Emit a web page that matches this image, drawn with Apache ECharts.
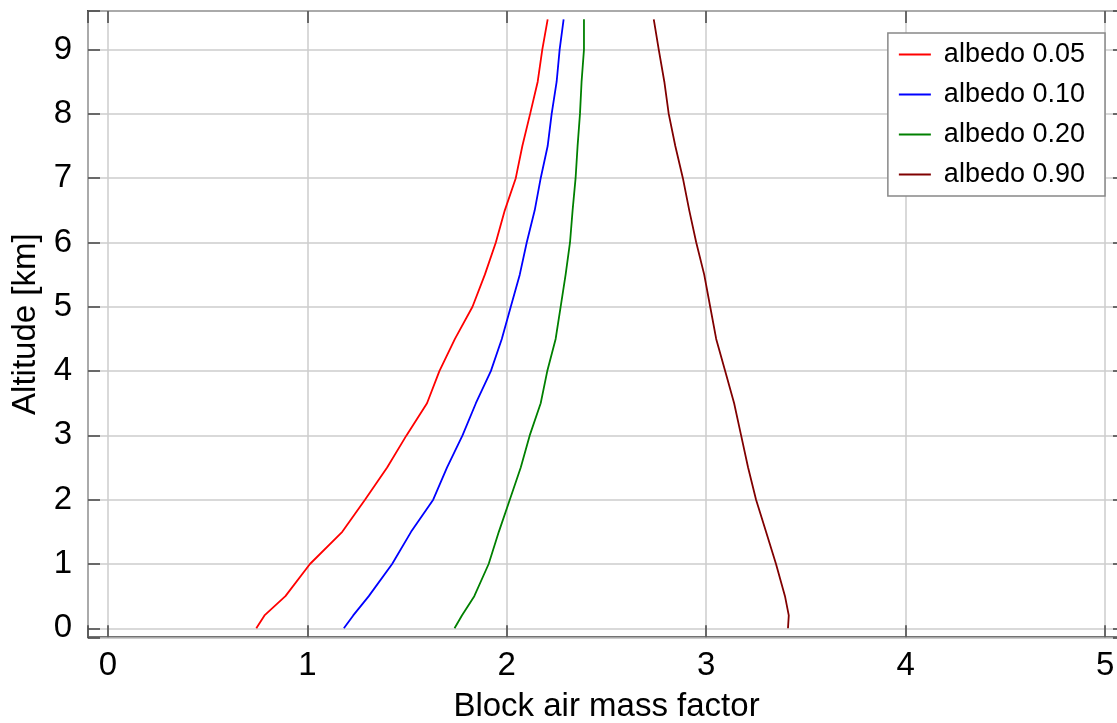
<!DOCTYPE html>
<html>
<head>
<meta charset="utf-8">
<script src="https://cdn.jsdelivr.net/npm/echarts@6/dist/echarts.min.js"></script>
<style>
html,body{margin:0;padding:0;background:#fff;overflow:hidden;}
#c{width:1117px;height:723px;}
</style>
</head>
<body>
<div id="c"></div>
<script>
// Altitude [km]
const altitudes = [0, 0.2, 0.5, 1, 1.5, 2, 2.5, 3, 3.5, 4, 4.5, 5, 5.5, 6, 6.5, 7, 7.5, 8, 8.5, 9, 9.47];
// Block air mass factor per albedo
const albedo005 = [0.744, 0.785, 0.89, 1.013, 1.175, 1.289, 1.40, 1.497, 1.60, 1.662, 1.74, 1.828, 1.89, 1.945, 1.99, 2.045, 2.078, 2.117, 2.155, 2.178, 2.205];
const albedo010 = [1.183, 1.23, 1.308, 1.425, 1.52, 1.631, 1.70, 1.778, 1.845, 1.92, 1.975, 2.02, 2.065, 2.10, 2.14, 2.17, 2.205, 2.225, 2.25, 2.265, 2.285];
const albedo020 = [1.738, 1.775, 1.837, 1.909, 1.96, 2.015, 2.07, 2.115, 2.17, 2.203, 2.245, 2.27, 2.295, 2.317, 2.33, 2.345, 2.355, 2.367, 2.375, 2.387, 2.387];
const albedo090 = [3.41, 3.414, 3.395, 3.35, 3.30, 3.25, 3.21, 3.175, 3.14, 3.095, 3.05, 3.02, 2.99, 2.95, 2.915, 2.883, 2.845, 2.812, 2.79, 2.762, 2.737];
const seriesNames = ['albedo 0.05', 'albedo 0.10', 'albedo 0.20', 'albedo 0.90'];
const seriesValues = [albedo005, albedo010, albedo020, albedo090];
const seriesColors = ['#ff0000', '#0000ff', '#008000', '#800000'];
const xTitle = 'Block air mass factor';
const yTitle = 'Altitude [km]';

const FONT = 'Liberation Sans, Arial, Helvetica, sans-serif';
const intFmt = v => (Math.abs(v - Math.round(v)) < 1e-6 ? String(Math.round(v)) : '');

const chart = echarts.init(document.getElementById('c'), null, {renderer: 'canvas'});

const tickStyle = {show: true, inside: true, length: 12, lineStyle: {color: '#444', width: 1.5}};
const splitStyle = {show: true, lineStyle: {color: '#cccccc', width: 1.5}};
const noLine = {show: false, onZero: false};

const option = {
  backgroundColor: '#ffffff',
  textStyle: {fontFamily: FONT},
  animation: false,
  grid: {left: 88, top: 11, width: 1037, height: 626.3, show: true, borderColor: '#444', borderWidth: 2,
         backgroundColor: 'transparent', containLabel: false, outerBoundsMode: 'none'},
  legend: {
    right: 12, top: 33, orient: 'vertical',
    backgroundColor: '#ffffff', borderColor: '#888', borderWidth: 1.5,
    padding: [8, 20, 8, 11], itemGap: 13, itemWidth: 32, itemHeight: 2, icon: 'rect',
    textStyle: {fontSize: 27, color: '#000', fontFamily: FONT, padding: [0, 0, 0, 8]},
    data: seriesNames
  },
  xAxis: [
    {type: 'value', position: 'bottom', min: -0.1, max: 5.1, splitNumber: 5,
     name: xTitle, nameLocation: 'middle', nameGap: 53,
     nameTextStyle: {fontSize: 33, color: '#000', fontFamily: FONT},
     axisLine: noLine, axisTick: tickStyle, splitLine: splitStyle,
     axisLabel: {fontSize: 33, color: '#000', margin: 12, formatter: intFmt, fontFamily: FONT}},
    {type: 'value', position: 'top', min: -0.1, max: 5.1, splitNumber: 5,
     axisLine: noLine, axisTick: tickStyle, splitLine: {show: false}, axisLabel: {show: false}}
  ],
  yAxis: [
    {type: 'value', position: 'left', min: -0.14, max: 9.6, splitNumber: 10,
     name: yTitle, nameLocation: 'middle', nameGap: 40, nameRotate: 90,
     nameTextStyle: {fontSize: 33, color: '#000', fontFamily: FONT},
     axisLine: noLine, axisTick: tickStyle, splitLine: splitStyle,
     axisLabel: {fontSize: 33, color: '#000', margin: 16, formatter: intFmt, fontFamily: FONT}},
    {type: 'value', position: 'right', min: -0.14, max: 9.6, splitNumber: 10,
     axisLine: noLine, axisTick: tickStyle, splitLine: {show: false}, axisLabel: {show: false}}
  ],
  series: seriesNames.map((n, i) => ({
    name: n, type: 'line', xAxisIndex: 0, yAxisIndex: 0,
    symbol: 'none', smooth: false, z: 3,
    color: seriesColors[i],
    lineStyle: {color: seriesColors[i], width: 1.8},
    data: seriesValues[i].map((v, k) => [v, altitudes[k]])
  }))
};
chart.setOption(option);
</script>
</body>
</html>
